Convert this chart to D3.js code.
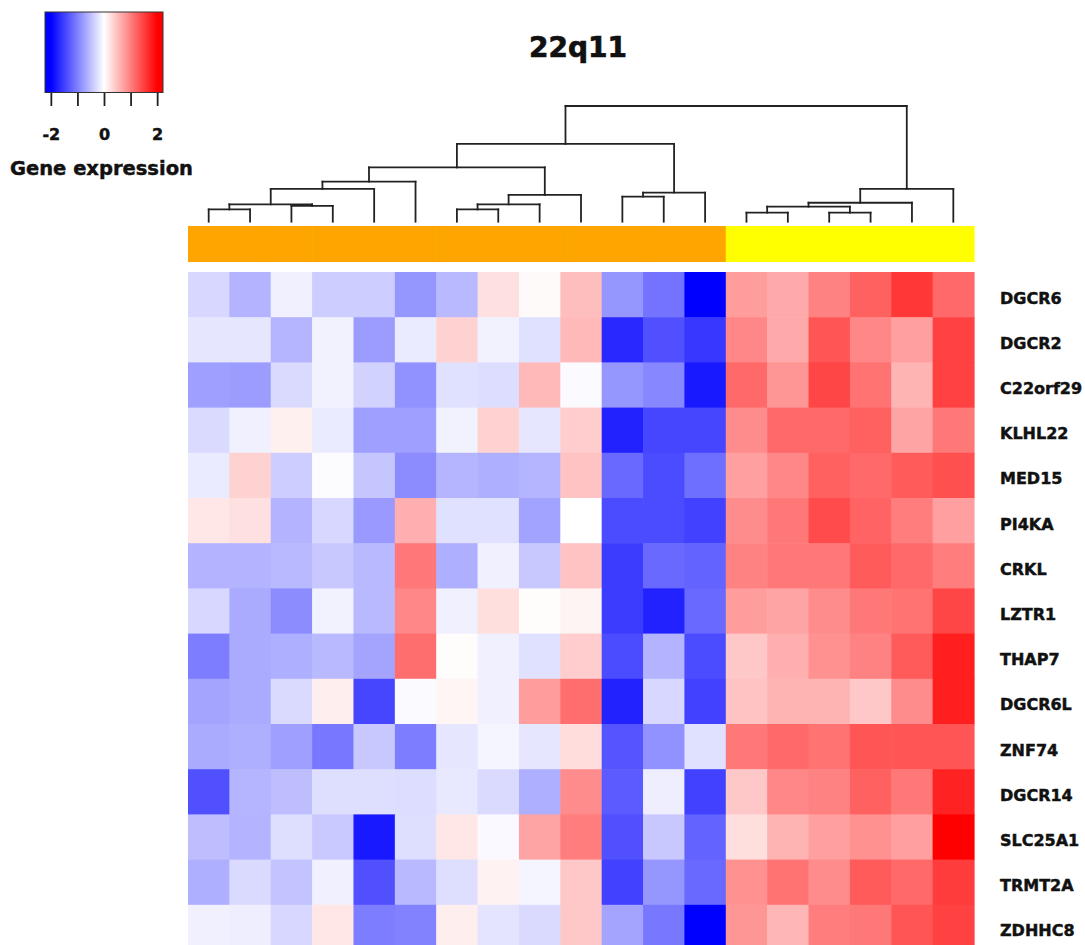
<!DOCTYPE html>
<html>
<head>
<meta charset="utf-8">
<script src="https://cdn.jsdelivr.net/npm/d3@7"></script>
<style>
  html, body { margin: 0; padding: 0; background: #fff; }
  svg { display: block; }
  text { font-family: "DejaVu Sans", "Liberation Sans", Arial, sans-serif; font-weight: bold; fill: #111; stroke: #111; stroke-width: 0.45px; }
</style>
</head>
<body>
<svg id="chart" width="1085" height="945"></svg>
<script>
// ---------------- DATA ----------------
const title = "22q11";
const legendTitle = "Gene expression";
const legendTicks = [-2, -1, 0, 1, 2];
const legendTickLabels = ["-2", "", "0", "", "2"];

const genes = ["DGCR6", "DGCR2", "C22orf29", "KLHL22", "MED15", "PI4KA", "CRKL", "LZTR1",
  "THAP7", "DGCR6L", "ZNF74", "DGCR14", "SLC25A1", "TRMT2A", "ZDHHC8"];

const samples = ["S1","S2","S3","S4","S5","S6","S7","S8","S9","S10","S11","S12","S13",
  "S14","S15","S16","S17","S18","S19"];

const sampleGroups = ["A","A","A","A","A","A","A","A","A","A","A","A","A",
  "B","B","B","B","B","B"];
const groupNames = ["A", "B"];
const groupColors = ["#FFA500", "#FFFF00"];

// expression values (z-scores), one row per gene, columns in dendrogram order
const DGCR6   = [-0.31,-0.60,-0.12,-0.39,-0.39,-0.82,-0.55, 0.24, 0.04, 0.51,-0.82,-1.10,-2.00, 0.78, 0.67, 0.98, 1.25, 1.57, 1.18];
const DGCR2   = [-0.20,-0.20,-0.59,-0.10,-0.78,-0.16, 0.35,-0.10,-0.24, 0.55,-1.69,-1.37,-1.57, 0.94, 0.67, 1.33, 0.94, 0.75, 1.49];
const C22orf29= [-0.75,-0.78,-0.29,-0.10,-0.35,-0.86,-0.24,-0.27, 0.55,-0.04,-0.82,-0.94,-1.80, 1.18, 0.82, 1.45, 1.10, 0.59, 1.49];
const KLHL22  = [-0.29,-0.12, 0.12,-0.16,-0.75,-0.75,-0.10, 0.35,-0.20, 0.39,-1.73,-1.45,-1.45, 0.90, 1.18, 1.18, 1.25, 0.71, 1.06];
const MED15   = [-0.16, 0.35,-0.39,-0.02,-0.45,-0.90,-0.59,-0.63,-0.59, 0.47,-1.18,-1.41,-1.14, 0.75, 0.94, 1.25, 1.18, 1.29, 1.37];
const PI4KA   = [ 0.19, 0.24,-0.60,-0.31,-0.80, 0.63,-0.24,-0.24,-0.73, 0.00,-1.41,-1.41,-1.49, 0.90, 1.06, 1.41, 1.22, 1.02, 0.75];
const CRKL    = [-0.60,-0.60,-0.55,-0.43,-0.55, 1.06,-0.63,-0.12,-0.43, 0.47,-1.53,-1.18,-1.22, 0.98, 1.06, 1.06, 1.29, 1.18, 1.02];
const LZTR1   = [-0.31,-0.67,-0.90,-0.10,-0.55, 0.94,-0.12, 0.26, 0.02, 0.09,-1.53,-1.73,-1.18, 0.78, 0.71, 0.90, 1.06, 1.10, 1.45];
const THAP7   = [-1.02,-0.67,-0.63,-0.55,-0.71, 1.14, 0.02,-0.12,-0.24, 0.39,-1.41,-0.60,-1.41, 0.43, 0.63, 0.86, 0.98, 1.29, 1.76];
const DGCR6L  = [-0.71,-0.67,-0.29, 0.13,-1.45,-0.04, 0.08,-0.12, 0.78, 1.14,-1.73,-0.31,-1.49, 0.47, 0.59, 0.59, 0.43, 0.90, 1.76];
const ZNF74   = [-0.67,-0.63,-0.75,-1.06,-0.43,-1.02,-0.20,-0.08,-0.20, 0.27,-1.33,-0.86,-0.24, 1.06, 1.18, 1.10, 1.33, 1.33, 1.33];
const DGCR14  = [-1.37,-0.59,-0.51,-0.26,-0.26,-0.27,-0.18,-0.29,-0.63, 0.90,-1.29,-0.13,-1.49, 0.43, 0.94, 0.98, 1.25, 1.06, 1.73];
const SLC25A1 = [-0.51,-0.60,-0.26,-0.42,-1.80,-0.26, 0.19,-0.05, 0.71, 1.02,-1.37,-0.43,-1.22, 0.26, 0.59, 0.75, 0.86, 0.75, 2.00];
const TRMT2A  = [-0.63,-0.29,-0.47,-0.12,-1.37,-0.55,-0.26, 0.10,-0.08, 0.43,-1.49,-0.82,-1.18, 0.86, 1.10, 0.90, 1.29, 1.18, 1.53];
const ZDHHC8  = [-0.12,-0.13,-0.31, 0.19,-1.02,-0.98, 0.13,-0.21,-0.29, 0.43,-0.71,-1.06,-2.00, 0.82, 0.57, 1.02, 1.06, 1.33, 1.49];
const expression = [DGCR6, DGCR2, C22orf29, KLHL22, MED15, PI4KA, CRKL, LZTR1, THAP7, DGCR6L,
  ZNF74, DGCR14, SLC25A1, TRMT2A, ZDHHC8];

// column dendrogram merges (hclust style): negative = leaf index+1, positive = merge number
const mergeLeft   = [-1, -3, 1, 3, 4, -7, 6, 7, 5, -11, 10, 9, -14, -16, 13, 15, 16, 12];
const mergeRight  = [-2, -4, 2, -5, -6, -8, -9, -10, 8, -12, -13, 11, -15, -17, 14, -18, -19, 17];
const mergeHeight = [1.06, 1.36, 1.50, 2.83, 3.46, 1.06, 1.50, 2.31, 4.69, 2.16, 2.51, 6.72,
  0.78, 0.78, 1.30, 1.64, 2.83, 10.0];

// ---------------- LAYOUT ----------------
const svg = d3.select("#chart");
const heatLeft = 188, heatRight = 974, heatTop = 272, rowH = 45.2;

const x = d3.scaleBand().domain(samples).range([heatLeft, heatRight]).padding(0);
const y = d3.scaleBand().domain(genes).range([heatTop, heatTop + rowH * genes.length]).padding(0);
const color = d3.scaleLinear().domain([-2, 0, 2]).range(["#0000FF", "#FFFFFF", "#FF0000"]).clamp(true);
const groupColor = d3.scaleOrdinal().domain(groupNames).range(groupColors);

// ---------------- HEATMAP ----------------
const cells = [];
genes.forEach((g, i) => samples.forEach((s, j) => cells.push({ gene: g, sample: s, v: expression[i][j] })));
svg.append("g").selectAll("rect").data(cells).join("rect")
  .attr("x", d => x(d.sample))
  .attr("y", d => y(d.gene))
  .attr("width", x.bandwidth() + 0.6)
  .attr("height", y.bandwidth() + 0.6)
  .attr("fill", d => color(d.v));

// row labels
svg.append("g").selectAll("text").data(genes).join("text")
  .attr("x", 1000)
  .attr("y", d => y(d) + y.bandwidth() / 2 + 9)
  .attr("font-size", 16)
  .text(d => d);

// ---------------- COLUMN ANNOTATION ----------------
svg.append("g").selectAll("rect").data(samples).join("rect")
  .attr("x", d => x(d))
  .attr("y", 226)
  .attr("width", x.bandwidth() + 0.6)
  .attr("height", 36)
  .attr("fill", (d, i) => groupColor(sampleGroups[i]));

// ---------------- DENDROGRAM ----------------
const hy = d3.scaleLinear().domain([0, 10]).range([221.7, 106]);
const nodePos = [];
function pos(idx) {
  if (idx < 0) { const s = samples[-idx - 1]; return { x: x(s) + x.bandwidth() / 2, h: 0 }; }
  return nodePos[idx - 1];
}
const segs = [];
mergeLeft.forEach((l, k) => {
  const a = pos(l), b = pos(mergeRight[k]), h = mergeHeight[k];
  segs.push([a.x, hy(a.h), a.x, hy(h)]);
  segs.push([a.x, hy(h), b.x, hy(h)]);
  segs.push([b.x, hy(h), b.x, hy(b.h)]);
  nodePos.push({ x: (a.x + b.x) / 2, h: h });
});
svg.append("g").selectAll("line").data(segs).join("line")
  .attr("x1", d => d[0]).attr("y1", d => d[1])
  .attr("x2", d => d[2]).attr("y2", d => d[3])
  .attr("stroke", "#222").attr("stroke-width", 1.8).attr("stroke-linecap", "square");

// ---------------- TITLE ----------------
svg.append("text").attr("x", 578).attr("y", 57).attr("text-anchor", "middle")
  .attr("font-size", 28).style("stroke-width", "0.7px").text(title);

// ---------------- COLOR KEY ----------------
const kx = d3.scaleLinear().domain([-2.22, 2.22]).range([45, 163]);
const defs = svg.append("defs");
const grad = defs.append("linearGradient").attr("id", "keygrad").attr("x1", "0%").attr("x2", "100%");
const stops = d3.range(0, 1.0001, 0.05);
grad.selectAll("stop").data(stops).join("stop")
  .attr("offset", d => d * 100 + "%")
  .attr("stop-color", d => color(kx.invert(45 + d * 118)));
svg.append("rect").attr("x", kx(-2.22)).attr("y", 12).attr("width", kx(2.22) - kx(-2.22)).attr("height", 80.5)
  .attr("fill", "url(#keygrad)").attr("stroke", "#333").attr("stroke-width", 1);

const keyAxis = d3.axisBottom(kx).tickValues(legendTicks).tickSize(13)
  .tickFormat((d, i) => legendTickLabels[i]);
const kg = svg.append("g").attr("transform", "translate(0,93)").call(keyAxis);
kg.select(".domain").remove();
kg.selectAll(".tick line").attr("stroke", "#222").attr("stroke-width", 1.8);
kg.selectAll(".tick text").attr("y", 47).attr("dy", 0)
  .attr("font-size", 16).attr("font-family", "DejaVu Sans").attr("font-weight", "bold").attr("fill", "#111");

svg.append("text").attr("x", 10).attr("y", 175).attr("font-size", 19.5).text(legendTitle);
</script>
</body>
</html>
